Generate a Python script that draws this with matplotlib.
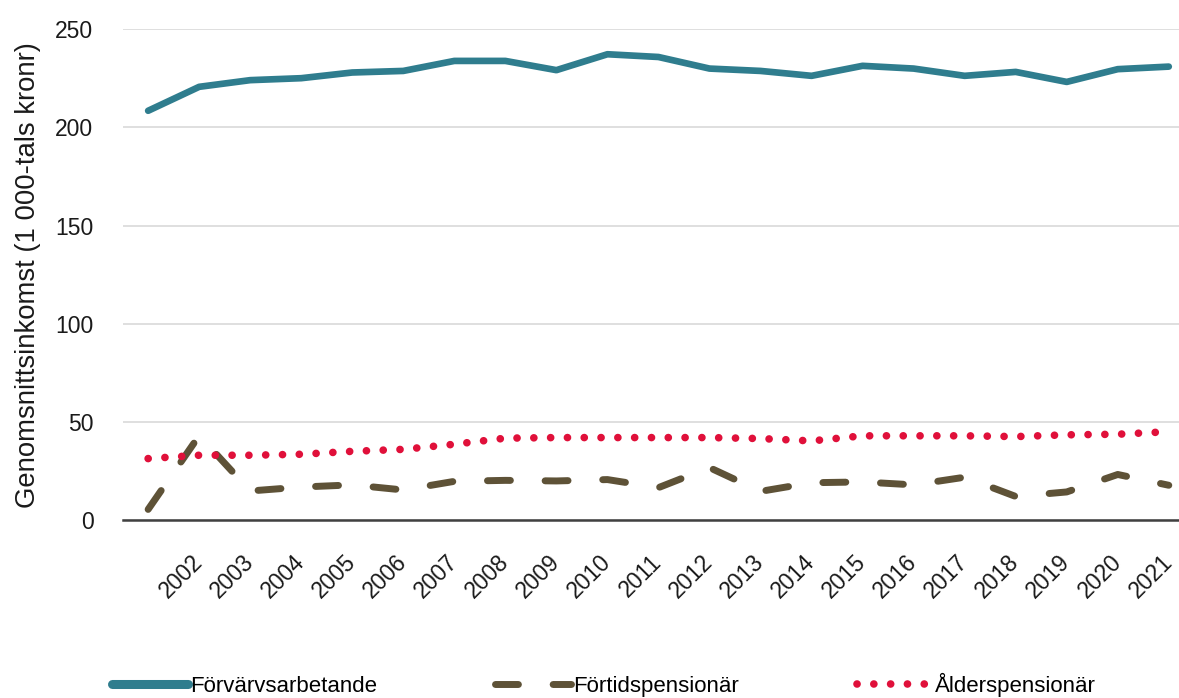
import matplotlib
matplotlib.use("Agg")
import matplotlib.pyplot as plt
import numpy as np

plt.rcParams['font.family'] = ['Liberation Sans', 'DejaVu Sans']

years = ['', '2002', '2003', '2004', '2005', '2006', '2007', '2008', '2009', '2010', '2011',
         '2012', '2013', '2014', '2015', '2016', '2017', '2018', '2019', '2020', '2021']

forvarv = [208.5, 220.7, 224.1, 225.1, 228.0, 228.8, 233.9, 233.9, 229.2, 237.3, 235.9,
           230.0, 228.8, 226.3, 231.4, 230.0, 226.3, 228.3, 223.2, 229.7, 231.0]
fortid = [5.4, 43.0, 14.8, 16.8, 17.9, 15.3, 19.7, 20.2, 19.9, 20.6, 16.5,
          26.7, 14.6, 19.0, 19.4, 17.9, 21.8, 12.0, 14.3, 23.2, 17.7]
alder = [31.3, 33.0, 33.0, 33.5, 35.0, 36.0, 38.6, 41.7, 42.0, 42.0, 42.0,
         42.0, 41.5, 40.3, 42.9, 42.9, 42.9, 42.5, 43.4, 43.7, 45.0]

x = np.arange(len(years))

fig = plt.figure(figsize=(11.79, 6.98), dpi=100)
ax = fig.add_axes([0.104, 0.255, 0.896, 0.703])

ax.plot(x, forvarv, color='#2f7d8e', lw=4.8, solid_capstyle='round', solid_joinstyle='round',
        label='Förvärvsarbetande')
ax.plot(x, fortid, color='#5e5237', lw=5, dashes=(3.3, 5.0), dash_capstyle='round',
        label='Förtidspensionär')
ax.plot(x, alder, color='#e0103a', lw=5.5, dashes=(0.01, 2.19), dash_capstyle='round',
        label='Ålderspensionär')

ax.set_xlim(-0.5, 20.2)
ax.set_ylim(0, 250)
ax.set_yticks([0, 50, 100, 150, 200, 250])
ax.set_xticks(x)
ax.set_xticklabels(years, rotation=45, ha='right', va='center', rotation_mode='anchor')
ax.tick_params(axis='both', length=0, labelsize=16.5, labelcolor='#1a1a1a')
ax.tick_params(axis='y', pad=21)
ax.tick_params(axis='x', pad=28)

ax.grid(axis='y', color='#d9d9d9', lw=1.2)
ax.set_axisbelow(True)
for s in ['top', 'right', 'left']:
    ax.spines[s].set_visible(False)
ax.spines['bottom'].set_color('#404040')
ax.spines['bottom'].set_linewidth(1.8)

ax.set_ylabel('Genomsnittsinkomst (1 000-tals kronr)', fontsize=19.8, color='#1a1a1a', labelpad=10)

leg = fig.legend(loc='center', bbox_to_anchor=(0.5125, 0.019), ncol=3, frameon=False,
                 fontsize=16, handlelength=3.4, handletextpad=0.12, columnspacing=5.3)
leg.get_lines()[0].set_linewidth(6.5)

fig.savefig('out.png', dpi=100)
